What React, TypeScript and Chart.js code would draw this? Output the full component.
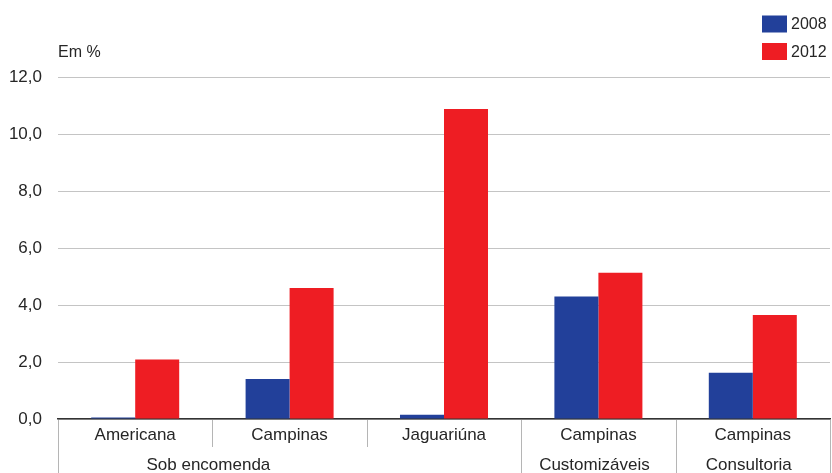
import { useEffect, useRef } from 'react';
import { Chart, registerables } from 'chart.js';

Chart.register(...registerables);

// Categories (first label row) and their groups (second label row)
const categories = ['Americana', 'Campinas', 'Jaguariúna', 'Campinas', 'Campinas'];
const groups = ['Sob encomenda', 'Sob encomenda', 'Sob encomenda', 'Customizáveis', 'Consultoria'];

// Series values, in %
const seriesNames = ['2008', '2012'];
const values2008 = [0.05, 1.4, 0.15, 4.3, 1.62];
const values2012 = [2.09, 4.6, 10.88, 5.13, 3.65];
const seriesColors = ['#22409A', '#EE1D23'];

// Value axis
const yMin = 0;
const yMax = 12;
const yStep = 2;
const yTitle = 'Em %';

const FONT = 'Arial, "Liberation Sans", sans-serif';
const TEXT = '#262626';

const groupAxisPlugin = {
  id: 'groupAxis',
  afterDraw(chart: any) {
    const { ctx, chartArea, scales } = chart;
    const x = scales.x;
    const n = categories.length;
    const bottom = chartArea.bottom;
    const H = chart.height;
    const half = (x.getPixelForValue(1) - x.getPixelForValue(0)) / 2;

    ctx.save();
    // separators between categories / groups
    ctx.strokeStyle = '#b5b5b5';
    ctx.lineWidth = 1;
    for (let i = 0; i <= n; i++) {
      const px = i < n ? x.getPixelForValue(i) - half : x.getPixelForValue(n - 1) + half;
      const groupEdge = i === 0 || i === n || groups[i] !== groups[i - 1];
      const end = groupEdge ? H : bottom + 28;
      const xx = Math.round(px) + 0.5;
      ctx.beginPath();
      ctx.moveTo(xx, bottom + 1);
      ctx.lineTo(xx, end);
      ctx.stroke();
    }

    // first row: category names
    ctx.fillStyle = TEXT;
    ctx.font = `17px ${FONT}`;
    ctx.textAlign = 'center';
    ctx.textBaseline = 'middle';
    categories.forEach((c, i) => {
      ctx.fillText(c, x.getPixelForValue(i), bottom + 16);
    });

    // second row: group names
    let start = 0;
    for (let i = 1; i <= n; i++) {
      if (i === n || groups[i] !== groups[start]) {
        const last = i - 1;
        const a = x.getPixelForValue(start);
        const b = x.getPixelForValue(Math.min(start + 1, last));
        ctx.fillText(groups[start], (a + b) / 2 - 4, bottom + 46);
        start = i;
      }
    }

    // axis title
    ctx.font = `16px ${FONT}`;
    ctx.textAlign = 'left';
    ctx.fillText(yTitle, chartArea.left, 53);

    // legend
    const boxW = 25;
    const boxH = 17;
    const boxX = 762;
    seriesNames.forEach((name, i) => {
      const cy = 24 + i * 27.5;
      ctx.fillStyle = seriesColors[i];
      ctx.fillRect(boxX, cy - boxH / 2, boxW, boxH);
      ctx.fillStyle = TEXT;
      ctx.fillText(name, boxX + boxW + 4, cy + 1);
    });
    ctx.restore();
  },
};

export default function App() {
  const ref = useRef<HTMLCanvasElement | null>(null);

  useEffect(() => {
    document.body.style.margin = '0';
    const canvas = ref.current;
    if (!canvas) return;
    const chart = new Chart(canvas, {
      type: 'bar',
      data: {
        labels: categories,
        datasets: [
          {
            label: seriesNames[0],
            data: values2008,
            backgroundColor: seriesColors[0],
            categoryPercentage: 0.57,
            barPercentage: 1,
          },
          {
            label: seriesNames[1],
            data: values2012,
            backgroundColor: seriesColors[1],
            categoryPercentage: 0.57,
            barPercentage: 1,
          },
        ],
      },
      options: {
        responsive: false,
        animation: false,
        layout: { padding: { top: 77, right: 2, left: 0, bottom: 0 } },
        plugins: {
          legend: { display: false },
          tooltip: { enabled: false },
        },
        scales: {
          x: {
            grid: { display: false },
            ticks: { display: false },
            border: { display: true, color: '#333333', width: 1.5 },
            afterFit: (s: any) => {
              s.height = 54;
            },
          },
          y: {
            min: yMin,
            max: yMax,
            ticks: {
              stepSize: yStep,
              padding: 16,
              color: TEXT,
              font: { size: 17, family: FONT },
              callback: (v: any) => Number(v).toFixed(1).replace('.', ','),
            },
            grid: { color: '#c4c4c4', lineWidth: 1, drawTicks: false },
            border: { display: false },
            afterFit: (s: any) => {
              s.width = 58;
            },
          },
        },
      },
      plugins: [groupAxisPlugin],
    });
    return () => chart.destroy();
  }, []);

  return (
    <div style={{ width: 832, height: 473, background: '#fff' }}>
      <canvas ref={ref} width={832} height={473} style={{ display: 'block' }} />
    </div>
  );
}
